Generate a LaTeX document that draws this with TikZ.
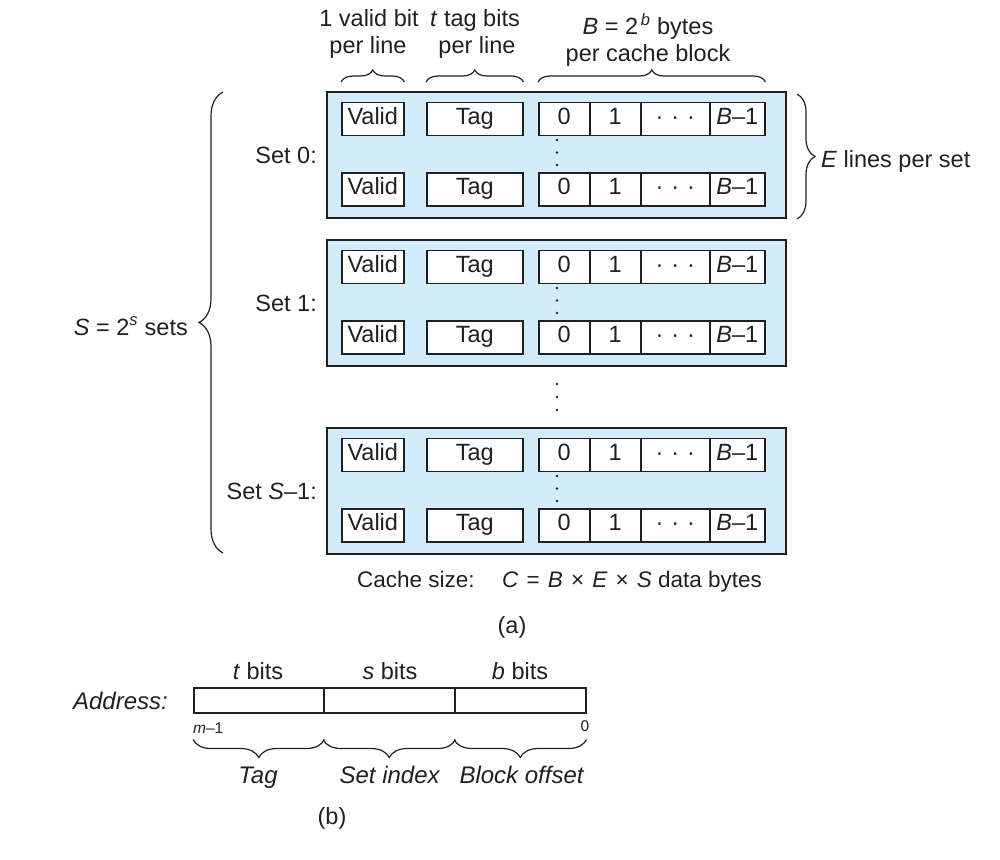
\documentclass[tikz,border=0pt]{standalone}
\usepackage{fontspec}
\setmainfont{Liberation Sans}
\usetikzlibrary{decorations.pathreplacing}
\definecolor{setfill}{RGB}{210,236,250}
\definecolor{ink}{RGB}{35,31,32}
\begin{document}
\begin{tikzpicture}[x=1pt,y=-1pt,
  every node/.style={font=\fontsize{23.5}{27}\selectfont, text=ink, inner sep=0pt},
  setbox/.style={draw=ink, line width=2pt, fill=setfill, minimum width=459pt, minimum height=126pt, anchor=north west},
  cellbox/.style={draw=ink, line width=1.5pt, fill=white, minimum height=33pt, text height=16pt, text depth=5pt, anchor=north west},
  addrbox/.style={draw=ink, line width=1.5pt, minimum height=25pt, minimum width=131pt, anchor=north west},
  brc/.style={draw=ink, line width=1.2pt, decorate, decoration={brace, amplitude=#1}},
  smalltext/.style={font=\fontsize{15.5}{18}\selectfont},
  sizetext/.style={font=\fontsize{22.5}{26}\selectfont},
  addrtext/.style={font=\fontsize{24}{28}\selectfont},
  vdot/.style={fill=ink}
]
\useasboundingbox (0,0) rectangle (1000,859);

% top labels
\node[anchor=base] (lv1) at (369,27) {1 valid bit};
\node[anchor=base] (lv2) at (368,54) {per line};
\node[anchor=base] (lt1) at (475,27) {\textit{t} tag bits};
\node[anchor=base] (lt2) at (477,54) {per line};
\node[anchor=base] (lb1) at (648,35) {\textit{B} = 2\textsuperscript{\,\itshape b} bytes};
\node[anchor=base] (lb2) at (648,62) {per cache block};

% sets
\foreach \s/\T/\lab in {0/91/{Set 0:}, 1/239/{Set 1:}, 2/427/{Set \textit{S}–1:}} {
  \node[setbox] (set\s) at (326,\T) {};
  \node[anchor=base east] (lab\s) at (317,\T+72) {\lab};
  \foreach \r/\dy in {a/10.5, b/81} {
    \node[cellbox, minimum width=62pt] (valid\s\r) at (341,\T+\dy) {Valid};
    \node[cellbox, minimum width=96pt] (tag\s\r) at (426,\T+\dy) {Tag};
    \node[cellbox, minimum width=51pt] (dz\s\r) at (538,\T+\dy) {0};
    \node[cellbox, minimum width=51pt] (do\s\r) at (589,\T+\dy) {1};
    \node[cellbox, minimum width=69pt] (dd\s\r) at (640,\T+\dy) {·\hspace{8pt}·\hspace{8pt}·};
    \node[cellbox, minimum width=55pt] (db\s\r) at (709,\T+\dy) {\textit{B}–1};
  }
  \foreach \dy in {49,61.5,74} {
    \fill[vdot] (557,\T+\dy) circle (1.4pt);
  }
}

% dots between sets
\foreach \y in {384,397,410} {
  \fill[vdot] (557,\y) circle (1.4pt);
}

% top braces
\draw[brc=12] ([yshift=19.5pt]valid0a.north west) -- ([yshift=19.5pt]valid0a.north east);
\draw[brc=12] ([yshift=19.5pt]tag0a.north west) -- ([yshift=19.5pt]tag0a.north east);
\draw[brc=12] ([yshift=19.5pt]dz0a.north west) -- ([yshift=19.5pt]db0a.north east);

% E lines brace
\draw[brc=18] ([shift={(10pt,-3pt)}]set0.north east) -- ([shift={(10pt,0pt)}]set0.south east);
\node[anchor=base west] (elab) at (821,167) {\textit{E} lines per set};

% S sets brace
\coordinate (lbtop) at (223,92);
\coordinate (lbbot) at (223,553);
\draw[brc=24] (lbbot) -- (lbtop);
\node[anchor=base east] (slab) at (188,335) {\textit{S} = 2\textsuperscript{\itshape s} sets};

% cache size
\node[sizetext, anchor=base west] (cs1) at (357,587) {Cache size:};
\node[sizetext, anchor=base west] (cs2) at (502,587) {\textit{C}\hspace{0.36em}=\hspace{0.36em}\textit{B}\hspace{0.36em}×\hspace{0.36em}\textit{E}\hspace{0.36em}×\hspace{0.36em}\textit{S} data bytes};
\node (capa) at (512,627) {(a)};

% address
\node[addrtext, anchor=base east] (addr) at (168,709) {\textit{Address:}};
\node[addrbox, minimum width=130pt] (aT) at (193,687) {};
\node[addrbox, minimum width=131pt] (aS) at (323,687) {};
\node[addrbox, minimum width=131pt] (aB) at (454,687) {};
\node[anchor=base] (tb) at (258,679) {\textit{t} bits};
\node[anchor=base] (sb) at (390,679) {\textit{s} bits};
\node[anchor=base] (bb) at (520,679) {\textit{b} bits};
\node[smalltext, anchor=base west] (mm) at (193,733) {\textit{m}–1};
\node[smalltext, anchor=base] (zz) at (585,731) {0};
\draw[brc=18] ([yshift=-26pt]aT.south east) -- ([yshift=-26pt]aT.south west);
\draw[brc=18] ([yshift=-26pt]aS.south east) -- ([yshift=-26pt]aS.south west);
\draw[brc=18] ([yshift=-26pt]aB.south east) -- ([yshift=-26pt]aB.south west);
\node[addrtext, anchor=base] (ltag) at (258,783) {\textit{Tag}};
\node[addrtext, anchor=base] (lset) at (390,783) {\textit{Set index}};
\node[addrtext, anchor=base] (lblk) at (522,783) {\textit{Block offset}};
\node (capb) at (332,818) {(b)};
\end{tikzpicture}
\end{document}
